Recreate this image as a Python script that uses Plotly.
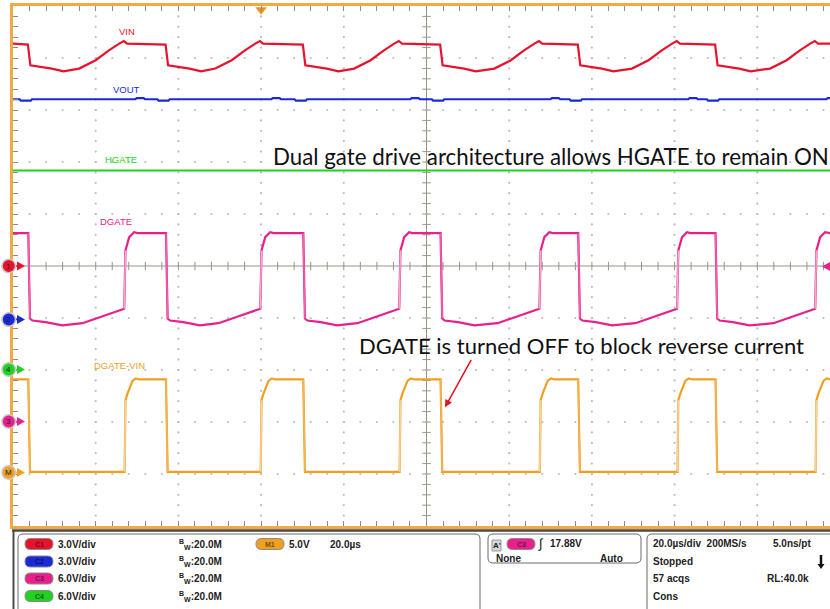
import plotly.graph_objects as go

# ---------------- scope settings (read from the readout) ----------------
ch_scale = {"C1": 3.0, "C2": 3.0, "C3": 6.0, "C4": 6.0, "M1": 5.0}          # V/div
ch_offset = {"C1": 0.0, "C2": -1.03, "C3": -2.99, "C4": -1.99, "M1": -3.97}  # div
time_per_div = 20.0  # us/div
trigger_level = 17.88  # V on C3

# ---------------- waveforms: time in us (trigger = 0), values in V ----------------
t_vin = [-60.0,
         -56.4, -55.8, -53.0, -50.6, -47.8, -44.0, -40.0, -36.8, -34.3, -33.2, -32.4,
         -23.1, -22.5, -19.7, -17.3, -14.5, -11.1, -7.1, -3.9, -1.4, -0.3, 0.5,
         10.1, 10.7, 13.5, 15.9, 18.7, 22.5, 26.5, 29.7, 32.2, 33.3, 34.1,
         43.3, 43.9, 46.7, 49.1, 51.9, 56.4, 60.4, 63.6, 66.1, 67.2, 68.0,
         76.6, 77.2, 80.0, 82.4, 85.2, 89.7, 93.7, 96.9, 99.4, 100.5, 101.3,
         109.8, 110.4, 113.2, 115.6, 118.4, 123.1, 127.1, 130.3, 132.8, 133.9, 134.7,
         137.6]
v_vin = [12.83,
         12.77, 11.58, 11.48, 11.39, 11.23, 11.39, 11.87, 12.44, 12.83, 12.98, 12.83,
         12.77, 11.58, 11.48, 11.39, 11.23, 11.39, 11.87, 12.44, 12.83, 12.98, 12.83,
         12.77, 11.58, 11.48, 11.39, 11.23, 11.39, 11.87, 12.44, 12.83, 12.98, 12.83,
         12.77, 11.58, 11.48, 11.39, 11.23, 11.39, 11.87, 12.44, 12.83, 12.98, 12.83,
         12.77, 11.58, 11.48, 11.39, 11.23, 11.39, 11.87, 12.44, 12.83, 12.98, 12.83,
         12.77, 11.58, 11.48, 11.39, 11.23, 11.39, 11.87, 12.44, 12.83, 12.98, 12.83,
         12.83]

t_vout = [-60.0,
          -58.4, -58.1, -55.7, -55.4, -30.4, -30.1, -28.4, -28.1,
          -25.1, -24.8, -22.4, -22.1, 2.5, 2.8, 4.5, 4.8,
          8.1, 8.4, 10.8, 11.1, 36.1, 36.4, 38.1, 38.4,
          41.3, 41.6, 44.0, 44.3, 70.0, 70.3, 72.0, 72.3,
          74.6, 74.9, 77.3, 77.6, 103.3, 103.6, 105.3, 105.6,
          107.8, 108.1, 110.5, 110.8, 136.7, 137.0, 137.6]
v_vout = [12.71,
          12.71, 12.63, 12.63, 12.71, 12.71, 12.77, 12.77, 12.71,
          12.71, 12.63, 12.63, 12.71, 12.71, 12.77, 12.77, 12.71,
          12.71, 12.63, 12.63, 12.71, 12.71, 12.77, 12.77, 12.71,
          12.71, 12.63, 12.63, 12.71, 12.71, 12.77, 12.77, 12.71,
          12.71, 12.63, 12.63, 12.71, 12.71, 12.77, 12.77, 12.71,
          12.71, 12.63, 12.63, 12.71, 12.71, 12.77, 12.77]

t_hgate = [-60.0, 137.6]
v_hgate = [22.96, 22.96]

t_dgate = [-60.0,
           -56.3, -55.9, -55.3, -52.1, -48.1, -43.2, -38.5, -34.4, -33.1, -32.8, -31.9, -30.7, -29.9,
           -23.0, -22.6, -22.0, -18.8, -14.8, -10.3, -5.6, -1.5, -0.2, 0.1, 1.0, 2.2, 3.0,
           10.2, 10.6, 11.2, 14.4, 18.4, 23.3, 28.0, 32.1, 33.4, 33.7, 34.6, 35.8, 36.6,
           43.4, 43.8, 44.4, 47.6, 51.6, 57.2, 61.9, 66.0, 67.3, 67.6, 68.5, 69.7, 70.5,
           76.7, 77.1, 77.7, 80.9, 84.9, 90.5, 95.2, 99.3, 100.6, 100.9, 101.8, 103.0, 103.8,
           109.9, 110.3, 110.9, 114.1, 118.1, 123.9, 128.6, 132.7, 134.0, 134.3, 135.2, 136.4, 137.2,
           137.6]
v_dgate = [21.73,
           21.73, 11.88, 11.65, 11.46, 11.08, 11.34, 12.12, 12.81, 13.0, 19.73, 21.27, 21.84, 21.73,
           21.73, 11.88, 11.65, 11.46, 11.08, 11.34, 12.12, 12.81, 13.0, 19.73, 21.27, 21.84, 21.73,
           21.73, 11.88, 11.65, 11.46, 11.08, 11.34, 12.12, 12.81, 13.0, 19.73, 21.27, 21.84, 21.73,
           21.73, 11.88, 11.65, 11.46, 11.08, 11.34, 12.12, 12.81, 13.0, 19.73, 21.27, 21.84, 21.73,
           21.73, 11.88, 11.65, 11.46, 11.08, 11.34, 12.12, 12.81, 13.0, 19.73, 21.27, 21.84, 21.73,
           21.73, 11.88, 11.65, 11.46, 11.08, 11.34, 12.12, 12.81, 13.0, 19.73, 21.27, 21.84, 21.73,
           21.73]

t_m1 = [-60.0,
        -56.3, -55.9, -33.0, -32.8, -32.3, -31.1, -30.3, -29.4,
        -23.0, -22.6, -0.1, 0.1, 0.6, 1.8, 2.6, 3.5,
        10.2, 10.6, 33.5, 33.7, 34.2, 35.4, 36.2, 37.1,
        43.4, 43.8, 67.4, 67.6, 68.1, 69.3, 70.1, 71.0,
        76.7, 77.1, 100.7, 100.9, 101.4, 102.6, 103.4, 104.3,
        109.9, 110.3, 134.1, 134.3, 134.8, 136.0, 136.8, 137.6]
v_m1 = [8.94,
        8.94, 0.06, 0.06, 6.95, 7.6, 8.8, 9.04, 8.94,
        8.94, 0.06, 0.06, 6.95, 7.6, 8.8, 9.04, 8.94,
        8.94, 0.06, 0.06, 6.95, 7.6, 8.8, 9.04, 8.94,
        8.94, 0.06, 0.06, 6.95, 7.6, 8.8, 9.04, 8.94,
        8.94, 0.06, 0.06, 6.95, 7.6, 8.8, 9.04, 8.94,
        8.94, 0.06, 0.06, 6.95, 7.6, 8.8, 9.04, 8.94]

channel_names = ["VIN", "VOUT", "HGATE", "DGATE", "DGATE-VIN"]
annot_top = "Dual gate drive architecture allows HGATE to remain ON"
annot_mid = "DGATE is turned OFF to block reverse current"

# ---------------- colours ----------------
COL = {"C1": "#e8122d", "C2": "#1a2ad6", "C3": "#e8208c", "C4": "#22d022", "M1": "#f0a020"}
BORDER = "#f4a840"
GRID = "#bdbdbd"
CROSS = "#9c9484"

# ---------------- geometry ----------------
W, H = 830, 609
ML, MT, MB = 13, 6, 83
PW, PH = W - ML, H - MT - MB
DIV_PX = 82.7
X0 = -60.0
X1 = X0 + PW / DIV_PX * time_per_div


def PX(x):
    return (x - ML) / PW


def PY(y):
    return (MT + PH - y) / PH


def ypx(div):
    return MT + PH / 2 - div * PH / 10


def tdiv(ch, volts):
    return [v / ch_scale[ch] + ch_offset[ch] for v in volts]


def edges(t, yd, rising):
    xs, ys = [], []
    for i in range(len(t) - 1):
        d = yd[i + 1] - yd[i]
        if abs(d) > 0.5 and (t[i + 1] - t[i]) < 0.6 and ((d > 0) == rising):
            xs += [t[i], t[i + 1], None]
            ys += [yd[i], yd[i + 1], None]
    return xs, ys


fig = go.Figure()

# graticule dots
gx, gy = [], []
for xv in [-40, -20, 0, 20, 60, 80, 100, 120]:
    for j in range(1, 50):
        gx.append(xv)
        gy.append(-5 + 0.2 * j)
for yv in [-4, -3, -2, -1, 1, 2, 3, 4]:
    for j in range(1, 50):
        gx.append(-60 + 4 * j)
        gy.append(yv)
fig.add_trace(go.Scatter(x=gx, y=gy, mode="markers", hoverinfo="skip",
                         marker=dict(size=2.2, color=GRID, line=dict(width=0))))

# centre cross ticks
fig.add_trace(go.Scatter(x=[40] * 49, y=[-5 + 0.2 * j for j in range(1, 50)], mode="markers",
                         hoverinfo="skip",
                         marker=dict(symbol="line-ew", size=6, line=dict(width=1, color=CROSS))))
fig.add_trace(go.Scatter(x=[-60 + 4 * j for j in range(1, 50)], y=[0] * 49, mode="markers",
                         hoverinfo="skip",
                         marker=dict(symbol="line-ns", size=6, line=dict(width=1, color=CROSS))))

# waveforms
y_hg = tdiv("C4", v_hgate)
y_vo = tdiv("C2", v_vout)
y_vi = tdiv("C1", v_vin)
y_dg = tdiv("C3", v_dgate)
y_m1 = tdiv("M1", v_m1)
for t, y, c in [(t_hgate, y_hg, "C4"), (t_vout, y_vo, "C2"), (t_vin, y_vi, "C1"),
                (t_dgate, y_dg, "C3"), (t_m1, y_m1, "M1")]:
    fig.add_trace(go.Scatter(x=t, y=y, mode="lines", hoverinfo="skip",
                             line=dict(color=COL[c], width=2.2)))

for t, y, cr, cf in [(t_dgate, y_dg, "#f4a8ca", "#ec60ac"), (t_m1, y_m1, "#f7d29e", "#f2b356")]:
    ex, ey = edges(t, y, True)
    fig.add_trace(go.Scatter(x=ex, y=ey, mode="lines", hoverinfo="skip",
                             line=dict(color=cr, width=1.5)))
    ex, ey = edges(t, y, False)
    fig.add_trace(go.Scatter(x=ex, y=ey, mode="lines", hoverinfo="skip",
                             line=dict(color=cf, width=1.5)))

# trigger position marker (top)
fig.add_trace(go.Scatter(x=[0], y=[4.93], mode="markers", cliponaxis=False, hoverinfo="skip",
                         marker=dict(symbol="triangle-down", size=10, color="#f39018")))

shapes = []
annotations = []
# centre cross
shapes.append(dict(type="line", xref="x", yref="paper", x0=40, x1=40, y0=0, y1=1,
                   line=dict(color=CROSS, width=1), layer="below"))
shapes.append(dict(type="line", xref="paper", yref="y", x0=0, x1=1, y0=0, y1=0,
                   line=dict(color=CROSS, width=1), layer="below"))

# channel ground markers on the left (circle + arrow), drawn in paper space
mk_ch = ["C1", "C2", "C4", "C3", "M1"]
mk_lbl = ["1", "2", "4", "3", "M"]
for ch, lab in zip(mk_ch, mk_lbl):
    yc = ypx(ch_offset[ch])
    shapes.append(dict(type="path", xref="paper", yref="paper",
                       path="M{},{} L{},{} L{},{} Z".format(PX(17), PY(yc - 4.5), PX(25), PY(yc),
                                                          PX(17), PY(yc + 4.5)),
                       fillcolor=COL[ch], line=dict(width=0)))
    shapes.append(dict(type="line", xref="paper", yref="paper", x0=PX(12), x1=PX(19), y0=PY(yc), y1=PY(yc),
                       line=dict(color=COL[ch], width=1.5)))
    shapes.append(dict(type="circle", xref="paper", yref="paper", x0=PX(2), x1=PX(15.5),
                       y0=PY(yc + 6.8), y1=PY(yc - 6.8),
                       fillcolor=COL[ch], line=dict(color="#c8c8c8", width=1.5)))
    annotations.append(dict(xref="paper", yref="paper", x=PX(8.8), y=PY(yc), text=lab, showarrow=False,
                            xanchor="center", yanchor="middle",
                            font=dict(size=8, color="#222", family="Liberation Sans")))

# trigger level marker on the right
yt = ypx(trigger_level / ch_scale["C3"] + ch_offset["C3"])
shapes.append(dict(type="path", xref="paper", yref="paper",
                   path="M{},{} L{},{} L{},{} Z".format(PX(822), PY(yt), PX(831), PY(yt - 5),
                                                      PX(831), PY(yt + 5)),
                   fillcolor=COL["C3"], line=dict(width=0)))


def rrect(x0, y0, x1, y1, r):
    return ("M{},{} L{},{} Q{},{} {},{} L{},{} Q{},{} {},{} L{},{} Q{},{} {},{} L{},{} Q{},{} {},{} Z"
            .format(PX(x0 + r), PY(y0), PX(x1 - r), PY(y0),
                    PX(x1), PY(y0), PX(x1), PY(y0 + r),
                    PX(x1), PY(y1 - r),
                    PX(x1), PY(y1), PX(x1 - r), PY(y1),
                    PX(x0 + r), PY(y1),
                    PX(x0), PY(y1), PX(x0), PY(y1 - r),
                    PX(x0), PY(y0 + r),
                    PX(x0), PY(y0), PX(x0 + r), PY(y0)))


# bottom readout panel frame
shapes.append(dict(type="line", xref="paper", yref="paper", x0=PX(12), x1=PX(832), y0=PY(530.5), y1=PY(530.5),
                   line=dict(color="#4a4a4a", width=2.5)))
shapes.append(dict(type="line", xref="paper", yref="paper", x0=PX(13.5), x1=PX(13.5), y0=PY(530), y1=PY(612),
                   line=dict(color="#4a4a4a", width=2)))
for (a, b, c, d) in [(18, 534, 480, 616), (488, 534, 641, 563), (647, 534, 840, 616)]:
    shapes.append(dict(type="path", xref="paper", yref="paper", path=rrect(a, b, c, d, 5),
                       line=dict(color="#6a6a6a", width=1)))

pills = [("C1", 25, 544), ("C2", 25, 561.5), ("C3", 25, 578.5), ("C4", 25, 596), ("M1", 256, 544),
         ("C3", 507, 544)]
for ch, x, y in pills:
    shapes.append(dict(type="path", xref="paper", yref="paper", path=rrect(x, y - 5.5, x + 28, y + 5.5, 5.5),
                       fillcolor=COL[ch], line=dict(color="#8a8a8a", width=1)))
shapes.append(dict(type="rect", xref="paper", yref="paper", x0=PX(492), x1=PX(501), y0=PY(551), y1=PY(540),
                   fillcolor="#d6d6d6", line=dict(color="#9a9a9a", width=1)))

# "thermometer" style down-arrow icon in the status box
shapes.append(dict(type="line", xref="paper", yref="paper", x0=PX(821), x1=PX(821), y0=PY(555), y1=PY(565),
                   line=dict(color="#111", width=2.5)))
shapes.append(dict(type="path", xref="paper", yref="paper",
                   path="M{},{} L{},{} L{},{} Z".format(PX(817.5), PY(564), PX(824.5), PY(564),
                                                      PX(821), PY(569)),
                   fillcolor="#111", line=dict(width=0)))


def txt(x, y, s, size=10, color="#222", xanchor="left", family="Liberation Sans", bold=True):
    annotations.append(dict(xref="paper", yref="paper", x=PX(x), y=PY(y), text=("<b>%s</b>" % s) if bold else s,
                            showarrow=False, xanchor=xanchor, yanchor="middle",
                            font=dict(size=size, color=color, family=family)))


for ch, x, y in pills:
    txt(x + 14, y, ch, size=7, color="rgba(0,0,0,0.55)", xanchor="center")

rows_y = [544, 561.5, 578.5, 596]
scales_txt = ["%.1fV/div" % ch_scale[c] for c in ["C1", "C2", "C3", "C4"]]
for y, s in zip(rows_y, scales_txt):
    txt(56, y, s)
    txt(177, y, "<sup>B</sup><sub>W</sub>:20.0M")
txt(287, 544, "%.1fV" % ch_scale["M1"])
txt(328, 544, "20.0µs")
txt(496.5, 545.5, "A'", size=8, xanchor="center")
txt(536, 543.5, "∫", size=13, color="#111", bold=False)
txt(548, 543, "%.2fV" % trigger_level)
txt(494, 558, "None")
txt(625, 558, "Auto", xanchor="right")
txt(651, 543, "20.0µs/div  200MS/s")
txt(813, 543, "5.0ns/pt", xanchor="right")
txt(651, 561, "Stopped")
txt(651, 578.5, "57 acqs")
txt(811, 578.5, "RL:40.0k", xanchor="right")
txt(651, 596, "Cons")

# channel labels
lbl_pos = [(127, 31.5, "C1"), (126, 90, "C2"), (121, 160, "C4"), (116, 221, "C3"), (119.5, 365, "M1")]
for name, (x, y, ch) in zip(channel_names, lbl_pos):
    annotations.append(dict(xref="paper", yref="paper", x=PX(x), y=PY(y), text=name, showarrow=False,
                            xanchor="center", yanchor="middle",
                            font=dict(size=9.5, color=COL[ch], family="Liberation Sans")))

# explanatory text
annotations.append(dict(xref="paper", yref="paper", x=PX(271), y=PY(156), text=annot_top, showarrow=False,
                        xanchor="left", yanchor="middle", font=dict(size=22.3, color="#111", family="Lato")))
annotations.append(dict(xref="paper", yref="paper", x=PX(357), y=PY(345), text=annot_mid, showarrow=False,
                        xanchor="left", yanchor="middle", font=dict(size=22, color="#111", family="Lato")))
# red arrow
annotations.append(dict(xref="x", yref="y", x=X0 + (445 - ML) / DIV_PX * time_per_div,
                        y=(265.7 - 407) / 52.0, ax=27, ay=-49, axref="pixel", ayref="pixel",
                        showarrow=True, arrowhead=2, arrowsize=1, arrowwidth=1.5, arrowcolor="#e8101e",
                        text=""))

fig.update_layout(
    width=W, height=H, margin=dict(l=ML, r=0, t=MT, b=MB, pad=0),
    paper_bgcolor="white", plot_bgcolor="white", showlegend=False, hovermode=False,
    shapes=shapes, annotations=annotations,
    xaxis=dict(range=[X0, X1], showgrid=False, zeroline=False, showline=True, linecolor=BORDER,
               linewidth=3, mirror="ticks", ticks="inside", tick0=-60, dtick=4, ticklen=5,
               tickcolor="#8a8a8a", tickwidth=1, showticklabels=False, fixedrange=True),
    yaxis=dict(range=[-5, 5], showgrid=False, zeroline=False, showline=True, linecolor=BORDER,
               linewidth=3, mirror=False, ticks="inside", tick0=-5, dtick=0.2, ticklen=5,
               tickcolor="#8a8a8a", tickwidth=1, showticklabels=False, fixedrange=True),
)

fig.write_html("out.html", config={"displayModeBar": False},
               post_script="document.body.style.margin='0px';")
